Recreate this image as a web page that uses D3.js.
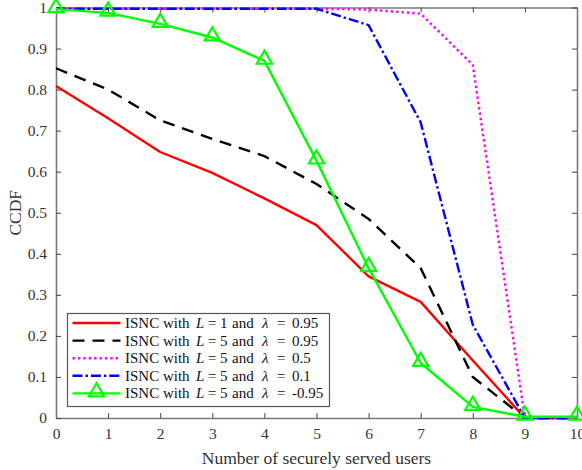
<!DOCTYPE html>
<html>
<head>
<meta charset="utf-8">
<script src="https://d3js.org/d3.v7.min.js"></script>
<style>
  html, body { margin: 0; padding: 0; background: #fff; }
  svg { display: block; font-family: "Liberation Serif", "DejaVu Serif", serif; }
</style>
</head>
<body>
<svg id="chart" width="582" height="470"></svg>
<script>
// Number of securely served users (x) and CCDF values per scheme
const users = [0, 1, 2, 3, 4, 5, 6, 7, 8, 9, 10];
const ccdfL1L095  = [0.809, 0.73, 0.648, 0.597, 0.535, 0.47, 0.345, 0.283, 0.14, 0, 0];
const ccdfL5L095  = [0.852, 0.80, 0.725, 0.68, 0.638, 0.57, 0.485, 0.365, 0.10, 0, 0];
const ccdfL5L05   = [0.997, 0.997, 0.997, 0.997, 0.997, 0.997, 0.995, 0.985, 0.86, 0, 0];
const ccdfL5L01   = [0.997, 0.997, 0.997, 0.997, 0.997, 0.997, 0.957, 0.72, 0.227, 0, 0];
const ccdfL5Lm095 = [0.996, 0.987, 0.96, 0.927, 0.87, 0.627, 0.365, 0.134, 0.027, 0.003, 0.003];

const xTicks = [0, 1, 2, 3, 4, 5, 6, 7, 8, 9, 10];
const yTicks = [0, 0.1, 0.2, 0.3, 0.4, 0.5, 0.6, 0.7, 0.8, 0.9, 1];

const seriesList = [
  { values: ccdfL1L095,  L: "1", lam: "0.95",  color: "#ff0000", dash: null,       marker: false },
  { values: ccdfL5L095,  L: "5", lam: "0.95",  color: "#000000", dash: "12,8",     marker: false },
  { values: ccdfL5L05,   L: "5", lam: "0.5",   color: "#ff00ff", dash: "2.4,3",    marker: false },
  { values: ccdfL5L01,   L: "5", lam: "0.1",   color: "#0000ff", dash: "10,3,2.4,3", marker: false },
  { values: ccdfL5Lm095, L: "5", lam: "-0.95", color: "#00ff00", dash: null,       marker: true }
];

const svg = d3.select("#chart");
const m = { left: 56, right: 5, top: 7.5, bottom: 52 };
const W = 582, H = 470;
const x = d3.scaleLinear().domain([0, 10]).range([m.left, W - m.right]);
const y = d3.scaleLinear().domain([0, 1]).range([H - m.bottom, m.top]);

const axisColor = "#7a7a7a";
const textColor = "#333";

// Axes: ticks pointing inward, box on all four sides
function styleAxis(g) {
  g.select(".domain").attr("stroke", axisColor).attr("stroke-width", 1.6);
  g.selectAll(".tick line").attr("stroke", "#444").attr("stroke-width", 1);
  g.selectAll(".tick text").attr("fill", textColor)
    .style("font-family", "'Liberation Serif', serif").style("font-size", "15.5px");
}

svg.append("g").attr("transform", `translate(0,${y(0)})`)
  .call(d3.axisBottom(x).tickValues(xTicks).tickSize(-5).tickSizeOuter(0).tickPadding(10).tickFormat(d3.format("d")))
  .call(styleAxis);
svg.append("g").attr("transform", `translate(0,${y(1)})`)
  .call(d3.axisTop(x).tickValues(xTicks).tickSize(-5).tickSizeOuter(0).tickFormat(""))
  .call(styleAxis);
svg.append("g").attr("transform", `translate(${x(0)},0)`)
  .call(d3.axisLeft(y).tickValues(yTicks).tickSize(-5).tickSizeOuter(0).tickPadding(9)
    .tickFormat(d => d === 0 || d === 1 ? d3.format("d")(d) : d3.format(".1f")(d)))
  .call(styleAxis);
svg.append("g").attr("transform", `translate(${x(10)},0)`)
  .call(d3.axisRight(y).tickValues(yTicks).tickSize(-5).tickSizeOuter(0).tickFormat(""))
  .call(styleAxis);

// Axis titles
svg.append("text")
  .attr("x", (x(0) + x(10)) / 2).attr("y", 464)
  .attr("text-anchor", "middle").attr("fill", textColor)
  .style("font-size", "17.5px")
  .text("Number of securely served users");
svg.append("text")
  .attr("transform", `translate(21,${(y(0) + y(1)) / 2}) rotate(-90)`)
  .attr("text-anchor", "middle").attr("fill", textColor)
  .style("font-size", "17.5px")
  .text("CCDF");

// Data lines
const line = d3.line().x((d, i) => x(users[i])).y(d => y(d));
const plot = svg.append("g");
const tri = d3.symbol().type(d3.symbolTriangle).size(100);

seriesList.forEach(s => {
  plot.append("path")
    .datum(s.values)
    .attr("d", line)
    .attr("fill", "none")
    .attr("stroke", s.color)
    .attr("stroke-width", 2.4)
    .attr("stroke-dasharray", s.dash)
    .attr("stroke-linejoin", "round");
  if (s.marker) {
    plot.selectAll(null).data(s.values).enter().append("path")
      .attr("d", tri)
      .attr("transform", (d, i) => `translate(${x(users[i])},${y(d) - 1.5})`)
      .attr("fill", "none")
      .attr("stroke", s.color)
      .attr("stroke-width", 2.2);
  }
});

// Legend
const lg = svg.append("g");
const lgX = 67.5, lgY = 313.5, lgW = 262, lgH = 93;
lg.append("rect").attr("x", lgX).attr("y", lgY).attr("width", lgW).attr("height", lgH)
  .attr("fill", "#fff").attr("stroke", "#555").attr("stroke-width", 1.2);

// Legend entries: math-style spacing around the "=" signs
seriesList.forEach((s, i) => {
  const cy = lgY + 9.5 + i * 17.6;
  lg.append("line")
    .attr("x1", lgX + 5).attr("x2", lgX + 53)
    .attr("y1", cy).attr("y2", cy)
    .attr("stroke", s.color).attr("stroke-width", 2.4)
    .attr("stroke-dasharray", s.dash);
  if (s.marker) {
    lg.append("path").attr("d", tri)
      .attr("transform", `translate(${lgX + 29},${cy - 1.5})`)
      .attr("fill", "none").attr("stroke", s.color).attr("stroke-width", 2.2);
  }
  const base = cy + 5;
  const parts = [
    { t: "ISNC with", x: 125 },
    { t: "L", x: 196, it: true },
    { t: "=", x: 208 },
    { t: s.L, x: 220 },
    { t: "and", x: 232 },
    { t: "λ", x: 262, it: true },
    { t: "=", x: 277 },
    { t: s.lam, x: 292 }
  ];
  parts.forEach(p => {
    lg.append("text")
      .attr("x", p.x).attr("y", base)
      .attr("fill", "#111")
      .style("font-size", "15px")
      .style("font-style", p.it ? "italic" : "normal")
      .text(p.t);
  });
});
</script>
</body>
</html>
